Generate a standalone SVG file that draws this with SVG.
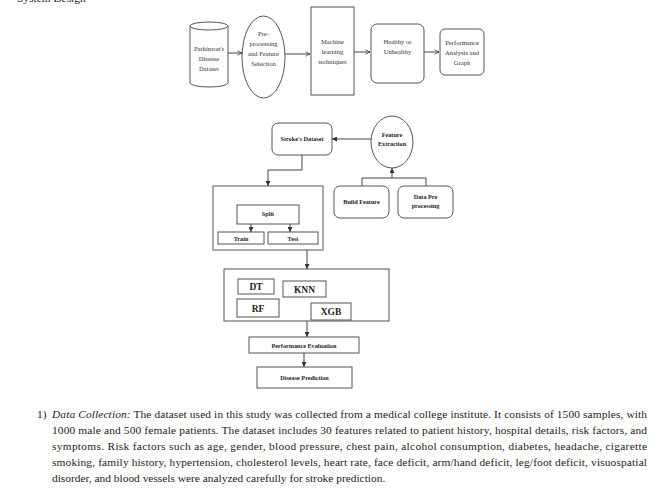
<svg xmlns="http://www.w3.org/2000/svg" width="664" height="492" viewBox="0 0 664 492">
<defs>
<marker id="ah" viewBox="0 0 6 6" refX="6" refY="3" markerWidth="5" markerHeight="5" orient="auto" markerUnits="userSpaceOnUse">
<path d="M0,0 L6,3 L0,6 Z" fill="#333"/>
</marker>
<marker id="ao" viewBox="0 0 8 8" refX="7" refY="4" markerWidth="6" markerHeight="6" orient="auto" markerUnits="userSpaceOnUse">
<path d="M1,1 L7,4 L1,7" fill="none" stroke="#333" stroke-width="1"/>
</marker>
</defs>
<style>
.s{fill:#fff;stroke:#555;stroke-width:1}
.t{font-family:"Liberation Serif","Times New Roman",serif;font-size:6.6px;fill:#333;text-anchor:middle}
.b{font-family:"Liberation Serif","Times New Roman",serif;font-size:6.2px;font-weight:bold;fill:#222;text-anchor:middle}
.m{font-family:"Liberation Serif","Times New Roman",serif;font-size:9.5px;font-weight:bold;fill:#222;text-anchor:middle}
.c{fill:none;stroke:#444;stroke-width:1}
.p{font-family:"Liberation Serif","Times New Roman",serif;font-size:11.4px;fill:#222}
</style>
<rect width="664" height="492" fill="#fff"/>
<text class="p" x="17" y="2">System Design</text>

<g id="parkinsons">
<path class="s" d="M190,26 L190,83 A19,4 0 0 0 228,83 L228,26"/>
<ellipse class="s" cx="209" cy="26" rx="19" ry="4"/>
<text class="t" x="209" y="51">Parkinson's</text>
<text class="t" x="209" y="61">Disease</text>
<text class="t" x="209" y="71">Dataset</text>
</g>
<g id="preprocessing">
<ellipse class="s" cx="263.5" cy="57" rx="21.5" ry="41"/>
<text class="t" x="263.5" y="36">Pre-</text>
<text class="t" x="263.5" y="46">processing</text>
<text class="t" x="263.5" y="56">and Feature</text>
<text class="t" x="263.5" y="66">Selection</text>
</g>
<g id="ml">
<rect class="s" x="311" y="7" width="43" height="88"/>
<text class="t" x="332.5" y="44">Machine</text>
<text class="t" x="332.5" y="54">learning</text>
<text class="t" x="332.5" y="64">techniques</text>
</g>
<g id="healthy">
<rect class="s" x="371" y="24" width="53" height="59" rx="6"/>
<text class="t" x="397.5" y="44">Healthy or</text>
<text class="t" x="397.5" y="54">Unhealthy</text>
</g>
<g id="performance">
<rect class="s" x="440" y="29" width="44" height="46" rx="5"/>
<text class="t" x="462" y="45">Performance</text>
<text class="t" x="462" y="55">Analysis and</text>
<text class="t" x="462" y="65">Graph</text>
</g>

<g id="strokes">
<rect class="s" x="272" y="123" width="60" height="32" rx="6"/>
<text class="b" x="302" y="141">Stroke's Dataset</text>
</g>
<g id="feature-extraction">
<ellipse class="s" cx="392" cy="142" rx="21" ry="26"/>
<text class="b" x="392" y="137">Feature</text>
<text class="b" x="392" y="146">Extraction</text>
</g>
<g id="build-feature">
<rect class="s" x="334" y="186" width="55" height="32" rx="6"/>
<text class="b" x="361.5" y="204">Build Feature</text>
</g>
<g id="data-pre">
<rect class="s" x="398" y="186" width="55" height="32" rx="6"/>
<text class="b" x="425.5" y="199">Data Pre</text>
<text class="b" x="425.5" y="208">processing</text>
</g>
<g id="split-box">
<rect class="s" x="213" y="186" width="110" height="64"/>
</g>
<g id="split">
<rect class="s" x="237" y="205" width="62" height="19"/>
<text class="b" x="268" y="216">Split</text>
</g>
<g id="train">
<rect class="s" x="218" y="232" width="46" height="12"/>
<text class="b" x="241" y="240.5">Train</text>
</g>
<g id="test">
<rect class="s" x="268" y="232" width="50" height="12"/>
<text class="b" x="293" y="240.5">Test</text>
</g>
<g id="models-box">
<rect class="s" x="224" y="269" width="165" height="52"/>
</g>
<g id="dt">
<rect class="s" x="238" y="279" width="36" height="15"/>
<text class="m" x="256" y="290">DT</text>
</g>
<g id="knn">
<rect class="s" x="283" y="281" width="43" height="16"/>
<text class="m" x="304.5" y="292.5">KNN</text>
</g>
<g id="rf">
<rect class="s" x="237" y="299" width="42" height="18"/>
<text class="m" x="258" y="311.5">RF</text>
</g>
<g id="xgb">
<rect class="s" x="311" y="303" width="40" height="17"/>
<text class="m" x="331" y="315">XGB</text>
</g>
<g id="perf-eval">
<rect class="s" x="249" y="337" width="110" height="16"/>
<text class="b" x="304" y="347.5">Performance Evaluation</text>
</g>
<g id="disease-pred">
<rect class="s" x="257" y="367" width="95" height="21"/>
<text class="b" x="304.5" y="380">Disease Prediction</text>
</g>

<g id="connectors">
<line class="c" x1="228" y1="53" x2="242" y2="53" marker-end="url(#ao)"/>
<line class="c" x1="285" y1="54" x2="310" y2="54" marker-end="url(#ao)"/>
<line class="c" x1="354" y1="52" x2="370" y2="52" marker-end="url(#ao)"/>
<line class="c" x1="424" y1="52" x2="439" y2="52" marker-end="url(#ao)"/>
<line class="c" x1="371" y1="139" x2="332" y2="139" marker-end="url(#ah)"/>
<polyline class="c" points="362,186 362,178 426,178 426,186"/>
<line class="c" x1="392" y1="178" x2="392" y2="168" marker-end="url(#ah)"/>
<polyline class="c" points="302,155 302,170 268,170 268,186" marker-end="url(#ah)"/>
<line class="c" x1="251" y1="224" x2="251" y2="232" marker-end="url(#ah)"/>
<line class="c" x1="290" y1="224" x2="290" y2="232" marker-end="url(#ah)"/>
<line class="c" x1="307" y1="250" x2="307" y2="269" marker-end="url(#ah)"/>
<line class="c" x1="307" y1="321" x2="307" y2="337" marker-end="url(#ah)"/>
<line class="c" x1="304" y1="353" x2="304" y2="367" marker-end="url(#ah)"/>
</g>

<g id="paragraph">
<text class="p" x="37" y="418">1)</text>
<text class="p" x="52" y="418" textLength="595" lengthAdjust="spacing"><tspan font-style="italic">Data Collection:</tspan> The dataset used in this study was collected from a medical college institute. It consists of 1500 samples, with</text>
<text class="p" x="52" y="434" textLength="595" lengthAdjust="spacing">1000 male and 500 female patients. The dataset includes 30 features related to patient history, hospital details, risk factors, and</text>
<text class="p" x="52" y="450" textLength="595" lengthAdjust="spacing">symptoms. Risk factors such as age, gender, blood pressure, chest pain, alcohol consumption, diabetes, headache, cigarette</text>
<text class="p" x="52" y="466" textLength="595" lengthAdjust="spacing">smoking, family history, hypertension, cholesterol levels, heart rate, face deficit, arm/hand deficit, leg/foot deficit, visuospatial</text>
<text class="p" x="52" y="482">disorder, and blood vessels were analyzed carefully for stroke prediction.</text>
</g>
</svg>
